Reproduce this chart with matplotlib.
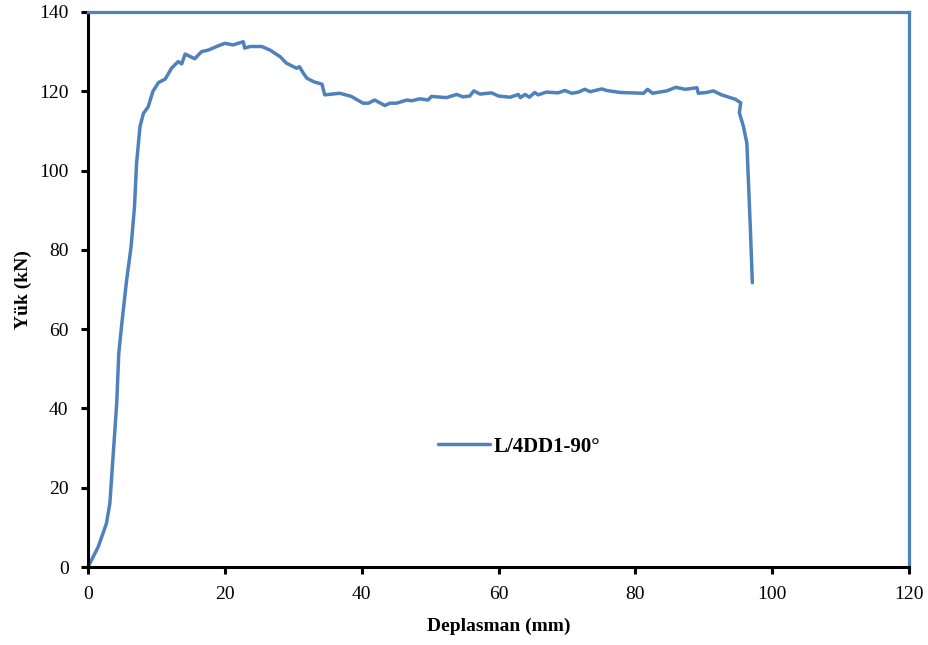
import matplotlib.pyplot as plt

# load-displacement curve
deplasman = [0.0, 1.5, 2.7, 3.2, 3.7, 4.2, 4.5, 5.0, 5.65, 6.3, 6.8, 7.1, 7.6, 8.1, 8.8,
             9.5, 10.3, 11.3, 12.2, 13.2, 13.7, 14.2, 15.6, 16.6, 17.6, 18.8, 20.0,
             21.2, 22.7, 22.9, 23.7, 25.4, 26.6, 28.1, 29.0, 30.5, 30.9, 31.5, 32.0,
             33.0, 34.2, 34.6, 36.8, 38.5, 40.2, 41.0, 41.9, 43.4, 44.1, 45.1, 46.6,
             47.3, 48.5, 49.7, 50.2, 52.4, 53.9, 54.8, 55.8, 56.4, 57.3, 59.0, 60.0,
             61.7, 62.9, 63.2, 63.9, 64.5, 65.3, 65.8, 67.0, 68.7, 69.7, 70.7, 71.7,
             72.6, 73.4, 75.1, 75.8, 77.8, 81.2, 81.8, 82.5, 84.6, 85.9, 87.3, 89.0,
             89.2, 90.4, 91.4, 92.6, 94.6, 95.4, 95.2, 95.8, 96.3, 96.5, 96.8, 97.1]
yuk = [0.0, 5.1, 11.0, 16.1, 28.7, 41.3, 53.9, 62.3, 72.4, 80.8, 90.9, 101.8, 111.1,
       114.4, 116.1, 120.0, 122.2, 123.1, 125.8, 127.5, 126.9, 129.4, 128.2, 130.0,
       130.4, 131.3, 132.1, 131.7, 132.5, 130.9, 131.3, 131.3, 130.4, 128.7, 127.1,
       125.8, 126.2, 124.5, 123.3, 122.4, 121.8, 119.1, 119.5, 118.7, 117.0, 117.0,
       117.8, 116.4, 117.0, 117.0, 117.8, 117.6, 118.1, 117.8, 118.7, 118.4, 119.2,
       118.6, 118.8, 120.1, 119.3, 119.6, 118.8, 118.5, 119.2, 118.4, 119.2, 118.5,
       119.7, 119.1, 119.8, 119.6, 120.2, 119.5, 119.8, 120.5, 119.9, 120.6, 120.2,
       119.7, 119.5, 120.5, 119.5, 120.1, 121.0, 120.5, 120.9, 119.5, 119.7, 120.1,
       119.1, 118.0, 117.1, 114.6, 111.1, 106.9, 98.5, 85.9, 71.7]
x_ticks = [0, 20, 40, 60, 80, 100, 120]
y_ticks = [0, 20, 40, 60, 80, 100, 120, 140]

blue = '#4F81BD'
plt.rcParams['font.family'] = ['Liberation Serif', 'DejaVu Serif']

fig = plt.figure(figsize=(9.29, 6.45), dpi=100)
ax = fig.add_axes([0.0947, 0.1209, 0.8838, 0.8605])
ax.plot(deplasman, yuk, color=blue, lw=2.5, label='L/4DD1-90°',
        solid_capstyle='round', solid_joinstyle='round')

ax.set_xlim(0, 120)
ax.set_ylim(0, 140)
ax.set_xticks(x_ticks)
ax.set_yticks(y_ticks)
ax.tick_params(direction='out', length=5, width=2.2, labelsize=14, pad=9)

for side in ['left', 'bottom']:
    ax.spines[side].set_linewidth(2.2)
    ax.spines[side].set_color('black')
for side in ['top', 'right']:
    ax.spines[side].set_linewidth(2.3)
    ax.spines[side].set_color(blue)

ax.set_xlabel('Deplasman (mm)', fontsize=14, fontweight='bold', labelpad=10)
ax.set_ylabel('Yük (kN)', fontsize=14, fontweight='bold', labelpad=5)

leg = ax.legend(loc='lower left', bbox_to_anchor=(0.403, 0.165), frameon=False,
                prop={'size': 15, 'weight': 'bold'}, handlelength=2.5, handletextpad=0.2)

fig.savefig('out.png', dpi=100)
